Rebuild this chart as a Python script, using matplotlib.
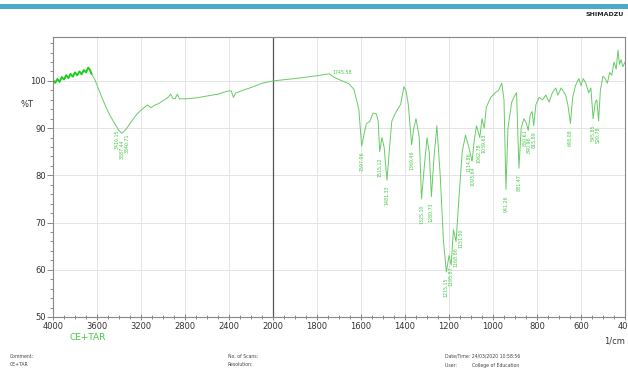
import numpy as np
import matplotlib.pyplot as plt
from matplotlib.ticker import FixedLocator
from matplotlib.patches import Rectangle

# spectrum (wavenumber 1/cm, %T)
wavenumber = [4000, 3980, 3960, 3940, 3920, 3900, 3880, 3860, 3840, 3820, 3800, 3780,
              3760, 3740, 3720, 3700, 3680, 3665, 3650, 3620, 3590, 3560, 3520, 3480,
              3440, 3400, 3375, 3350, 3320, 3290, 3250, 3210, 3170, 3140, 3110, 3080,
              3040, 3000, 2960, 2930, 2910, 2890, 2870, 2850, 2800, 2700, 2600, 2500,
              2420, 2380, 2360, 2340, 2300, 2200, 2100, 2000, 1900, 1800, 1745, 1720,
              1680, 1655, 1632, 1610, 1597, 1585, 1575, 1560, 1545, 1530, 1522, 1515,
              1505, 1495, 1482, 1470, 1460, 1440, 1420, 1405, 1395, 1385, 1370, 1360,
              1350, 1335, 1325, 1312, 1300, 1290, 1280, 1268, 1255, 1240, 1225, 1212,
              1200, 1190, 1180, 1168, 1155, 1140, 1125, 1110, 1095, 1085, 1075, 1060,
              1050, 1040, 1030, 1010, 990, 975, 960, 950, 941, 932, 915, 900,
              893, 882, 872, 860, 848, 840, 830, 822, 815, 805, 790, 775,
              760, 745, 730, 715, 705, 690, 670, 660, 648, 638, 625, 610,
              600, 590, 578, 565, 555, 545, 535, 528, 520, 512, 500, 490,
              480, 470, 460, 450, 440, 432, 425, 418, 410, 400]
transmittance = [100.2, 99.6, 100.4, 99.8, 100.8, 100.3, 101.2, 100.6, 101.5, 100.9, 101.8, 101.2,
                 102.0, 101.4, 102.3, 101.8, 102.8, 102.4, 101.5, 100.3, 98.5, 96.8, 94.5, 92.6,
                 91.0, 89.5, 88.9, 89.4, 90.3, 91.3, 92.6, 93.6, 94.4, 94.9, 94.3, 94.8,
                 95.2, 95.8, 96.4, 97.2, 96.3, 96.2, 97.2, 96.2, 96.2, 96.4, 96.8, 97.2,
                 97.8, 97.9, 96.5, 97.4, 97.8, 98.6, 99.5, 100.0, 100.5, 101.1, 101.5, 100.7,
                 99.9, 99.4, 98.2, 94.0, 86.2, 89.0, 91.0, 91.4, 93.2, 93.0, 91.5, 85.0,
                 88.0, 86.0, 79.0, 86.0, 91.5, 93.5, 95.0, 98.8, 97.8, 95.0, 86.5, 90.0,
                 92.0, 88.0, 75.0, 82.0, 88.0, 85.0, 75.5, 84.0, 90.5, 80.0, 66.0, 59.5,
                 63.0, 61.0, 68.5, 66.0, 75.0, 85.0, 88.5, 86.0, 83.0, 87.5, 90.5, 88.0,
                 92.0, 90.0, 94.5, 96.5, 97.5, 98.0, 99.5, 96.0, 77.0, 90.0, 95.5, 97.0,
                 97.5, 81.5, 90.0, 92.0, 91.0, 89.5, 93.0, 93.5, 90.5, 95.0, 96.5, 96.0,
                 97.0, 95.5, 97.5, 98.5, 97.0, 98.5, 97.0, 95.0, 91.0, 96.5, 99.0, 100.5,
                 99.0, 100.5, 99.5, 97.5, 98.5, 92.0, 95.5, 96.0, 91.5, 98.0, 101.0, 100.5,
                 99.5, 101.8, 101.2, 104.0, 102.5, 106.5, 103.5, 104.5, 103.0, 104.0]

# peak labels (position, %T of the mark, text)
peak_wn = [3420, 3375, 3330, 1597, 1515, 1482, 1370, 1325, 1280, 1212, 1192, 1168, 1146,
           1110, 1093, 1062, 1039, 941, 882, 852, 836, 815, 648, 545, 520]
peak_t = [91.0, 88.9, 90.0, 86.2, 85.0, 79.0, 86.5, 75.0, 75.5, 59.5, 62.0, 66.0, 70.0,
          86.0, 83.0, 88.0, 90.0, 77.0, 81.5, 91.0, 89.5, 90.5, 91.0, 92.0, 91.5]
peak_txt = ["3410.15", "3387.44", "3340.71", "1597.06", "1515.12", "1481.33", "1369.46",
            "1325.10", "1280.73", "1215.15", "1195.87", "1168.86", "1151.50", "1114.86",
            "1093.64", "1062.78", "1039.63", "941.26", "881.47", "850.61", "840.96",
            "815.89", "648.08", "545.85", "520.78"]
top_wn, top_t, top_txt = 1745, 101.5, "1745.58"

xtick_vals = [4000, 3600, 3200, 2800, 2400, 2000, 1800, 1600, 1400, 1200, 1000, 800, 600, 400]
ytick_vals = [50, 60, 70, 80, 90, 100]


# 4000-2000 is drawn at half the scale of 2000-400
def fwd(x):
    x = np.asarray(x, dtype=float)
    return np.where(x >= 2000, (x - 4000) / 2.0, -1000 + (x - 2000))


def inv(u):
    u = np.asarray(u, dtype=float)
    return np.where(u >= -1000, 4000 + 2.0 * u, 2000 + (u + 1000))


green = "#44cc44"
fig = plt.figure(figsize=(6.28, 3.71), dpi=100)
ax = fig.add_axes([53 / 628, 1 - 317 / 371, 572 / 628, 280 / 371])
ax.set_xscale("function", functions=(fwd, inv))
ax.set_xlim(4000, 400)
ax.set_ylim(50, 109.3)

ax.xaxis.set_major_locator(FixedLocator(xtick_vals))
minor_x = list(range(4000, 2000, -100)) + list(range(2000, 399, -50))
ax.xaxis.set_minor_locator(FixedLocator(minor_x))
ax.yaxis.set_major_locator(FixedLocator(ytick_vals))
ax.yaxis.set_minor_locator(FixedLocator(list(range(50, 110, 2))))
ax.tick_params(axis="both", which="both", colors="#777777", labelcolor="#333333",
               labelsize=6, width=0.6)
ax.tick_params(axis="x", which="major", direction="inout", length=5, pad=1)
ax.tick_params(axis="x", which="minor", direction="inout", length=3)
ax.tick_params(axis="y", which="major", length=4, pad=1)
ax.tick_params(axis="y", which="minor", length=2)
ax.grid(True, which="major", color="#e4e4e4", linewidth=0.7)
ax.axvline(2000, color="#555555", linewidth=0.9)
for s in ax.spines.values():
    s.set_color("#888888")
    s.set_linewidth(0.8)

ax.plot(wavenumber, transmittance, color="#66cc66", linewidth=0.7)
ax.plot(wavenumber[:19], transmittance[:19], color="#22cc22", linewidth=1.4)

for w, t, s in zip(peak_wn, peak_t, peak_txt):
    ax.text(w, t - 1.2, s, rotation=90, fontsize=3.4, color=green,
            ha="center", va="top")
ax.text(top_wn - 15, top_t + 0.3, top_txt, fontsize=3.4, color=green, ha="left", va="center")

ax.text(-0.045, 95, "%T", transform=ax.get_yaxis_transform(), fontsize=6,
        color="#333333", ha="center", va="center")

fig.text(70 / 628, 1 - 337 / 371, "CE+TAR", fontsize=6.5, color=green, va="center")
fig.text(625 / 628, 1 - 341 / 371, "1/cm", fontsize=6, color="#333333", ha="right", va="center")

# header bar and logo
fig.add_artist(Rectangle((0, 1 - 9 / 371), 1, 5 / 371, transform=fig.transFigure,
                         color="#4aaac8", linewidth=0))
fig.text(624 / 628, 1 - 15 / 371, "SHIMADZU", fontsize=4.5, fontweight="bold",
         color="#222222", ha="right", va="center")

# footer
foot = dict(fontsize=3.3, color="#444444", va="center")
fig.text(10 / 628, 1 - 356 / 371, "Comment:", **foot)
fig.text(10 / 628, 1 - 365 / 371, "CE+TAR", **foot)
fig.text(228 / 628, 1 - 356 / 371, "No. of Scans:", **foot)
fig.text(228 / 628, 1 - 365 / 371, "Resolution:", **foot)
fig.text(445 / 628, 1 - 356 / 371, "Date/Time: 24/03/2020 10:58:56", **foot)
fig.text(445 / 628, 1 - 365 / 371, "User:          College of Education", **foot)

fig.savefig("out.png", dpi=100)
